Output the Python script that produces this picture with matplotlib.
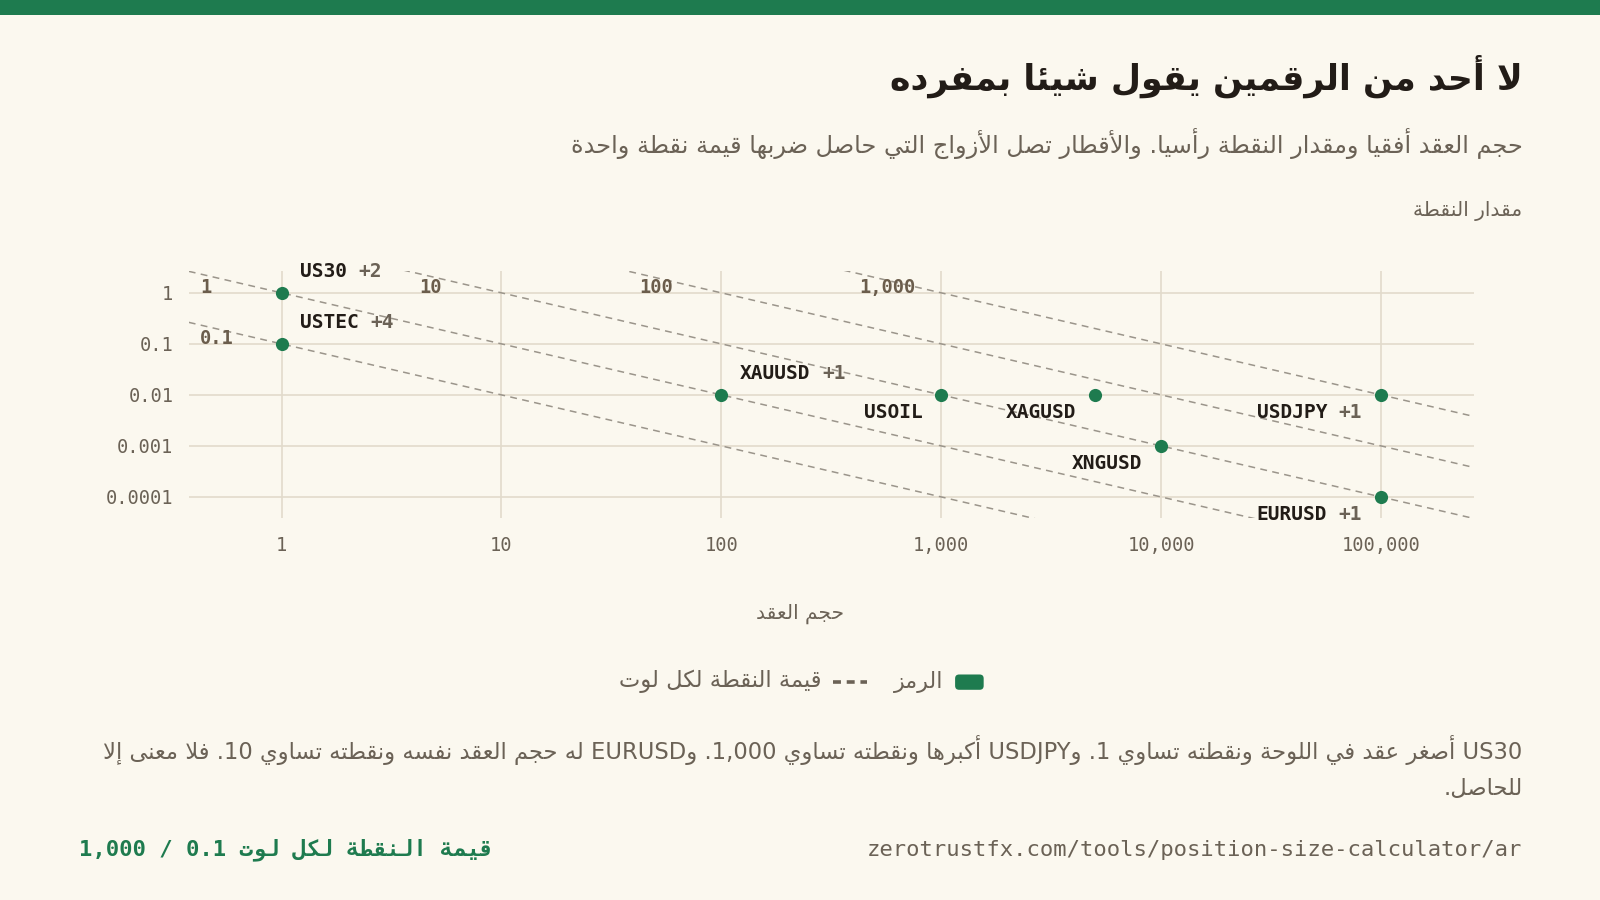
import matplotlib
matplotlib.use("Agg")
import matplotlib.pyplot as plt
import numpy as np
from matplotlib.patches import FancyBboxPatch, Rectangle
from matplotlib.lines import Line2D

# ---------------- data ----------------
symbols = ["US30", "USTEC", "XAUUSD", "USOIL", "XAGUSD", "XNGUSD", "USDJPY", "EURUSD"]
contract_size = [1, 1, 100, 1000, 5000, 10000, 100000, 100000]
point_size = [1, 0.1, 0.01, 0.01, 0.01, 0.001, 0.01, 0.0001]
extra_count = [2, 4, 1, 0, 0, 0, 1, 1]
label_side = ["ur", "ur", "ur", "dl", "dl", "dl", "dl", "dl"]

value_lines = [0.1, 1, 10, 100, 1000]
value_labels = ["0.1", "1", "10", "100", "1,000"]

x_ticks = [1, 10, 100, 1000, 10000, 100000]
x_tick_labels = ["1", "10", "100", "1,000", "10,000", "100,000"]
y_ticks = [1, 0.1, 0.01, 0.001, 0.0001]
y_tick_labels = ["1", "0.1", "0.01", "0.001", "0.0001"]

title = "لا أحد من الرقمين يقول شيئا بمفرده"
subtitle = "حجم العقد أفقيا ومقدار النقطة رأسيا. والأقطار تصل الأزواج التي حاصل ضربها قيمة نقطة واحدة"
y_title = "مقدار النقطة"
x_title = "حجم العقد"
legend_symbol = "الرمز"
legend_line = "قيمة النقطة لكل لوت"
note_lines = ["US30 أصغر عقد في اللوحة ونقطته تساوي 1. وUSDJPY أكبرها ونقطته تساوي 1,000. وEURUSD له حجم العقد نفسه ونقطته تساوي 10. فلا معنى إلا",
              "للحاصل."]
footer_left = "قيمة النقطة لكل لوت 0.1 / 1,000"
footer_right = "zerotrustfx.com/tools/position-size-calculator/ar"

# ---------------- Arabic shaping + bidi (minimal) ----------------
DUAL = {'ئ': 0xFE89, 'ب': 0xFE8F, 'ت': 0xFE95, 'ث': 0xFE99, 'ج': 0xFE9D, 'ح': 0xFEA1,
        'خ': 0xFEA5, 'س': 0xFEB1, 'ش': 0xFEB5, 'ص': 0xFEB9, 'ض': 0xFEBD, 'ط': 0xFEC1,
        'ظ': 0xFEC5, 'ع': 0xFEC9, 'غ': 0xFECD, 'ف': 0xFED1, 'ق': 0xFED5, 'ك': 0xFED9,
        'ل': 0xFEDD, 'م': 0xFEE1, 'ن': 0xFEE5, 'ه': 0xFEE9, 'ي': 0xFEF1}
RIGHT = {'آ': 0xFE81, 'أ': 0xFE83, 'ؤ': 0xFE85, 'إ': 0xFE87, 'ا': 0xFE8D, 'ة': 0xFE93,
         'د': 0xFEA9, 'ذ': 0xFEAB, 'ر': 0xFEAD, 'ز': 0xFEAF, 'و': 0xFEED, 'ى': 0xFEEF}
LAMALEF = {'آ': (0xFEF5, 0xFEF6), 'أ': (0xFEF7, 0xFEF8), 'إ': (0xFEF9, 0xFEFA), 'ا': (0xFEFB, 0xFEFC)}
TATWEEL = 'ـ'


def is_arabic(ch):
    o = ord(ch)
    return 0x0600 <= o <= 0x06FF or 0xFB50 <= o <= 0xFDFF or 0xFE70 <= o <= 0xFEFF


def shape(s):
    res = []
    prev_join = False
    i = 0
    n = len(s)
    while i < n:
        c = s[i]
        nxt = s[i + 1] if i + 1 < n else ''
        if c == 'ل' and nxt in LAMALEF:
            iso, fin = LAMALEF[nxt]
            res.append(chr(fin if prev_join else iso))
            prev_join = False
            i += 2
            continue
        if c in DUAL:
            nj = (nxt in DUAL) or (nxt in RIGHT) or nxt == TATWEEL
            b = DUAL[c]
            if prev_join and nj:
                g = b + 3
            elif prev_join:
                g = b + 1
            elif nj:
                g = b + 2
            else:
                g = b
            res.append(chr(g))
            prev_join = True
        elif c in RIGHT:
            b = RIGHT[c]
            res.append(chr(b + 1 if prev_join else b))
            prev_join = False
        elif c == TATWEEL:
            res.append(c)
            prev_join = True
        elif c == 'ء':
            res.append(chr(0xFE80))
            prev_join = False
        else:
            res.append(c)
            prev_join = False
        i += 1
    return ''.join(res)


def bidi(s):
    n = len(s)
    t = []
    for ch in s:
        if is_arabic(ch):
            t.append('R')
        elif ch.isdigit():
            t.append('EN')
        elif ch.isalpha():
            t.append('L')
        else:
            t.append('N')
    for i in range(1, n - 1):
        if s[i] in ',.' and t[i - 1] == 'EN' and t[i + 1] == 'EN':
            t[i] = 'EN'
    last = 'R'
    for i in range(n):
        if t[i] in ('L', 'R'):
            last = t[i]
        elif t[i] == 'EN' and last == 'L':
            t[i] = 'L'
    i = 0
    while i < n:
        if t[i] == 'N':
            j = i
            while j < n and t[j] == 'N':
                j += 1
            left = t[i - 1] if i > 0 else 'R'
            right = t[j] if j < n else 'R'
            left = 'R' if left == 'EN' else left
            right = 'R' if right == 'EN' else right
            d = left if left == right else 'R'
            for k in range(i, j):
                t[k] = d
            i = j
        else:
            i += 1
    levels = [1 if x == 'R' else 2 for x in t]
    chars = list(s)
    i = 0
    while i < n:
        if levels[i] == 2:
            j = i
            while j < n and levels[j] == 2:
                j += 1
            chars[i:j] = chars[i:j][::-1]
            i = j
        else:
            i += 1
    return ''.join(chars[::-1])


def ar(s):
    if any(is_arabic(c) for c in s):
        return bidi(shape(s))
    return s


# ---------------- style ----------------
BG = "#fbf8ef"
GREEN = "#1e7b4f"
DARK = "#221c17"
MUTED = "#6b6256"
BROWN = "#6b5d4c"
GRID = "#e2dbcb"
DASH = "#9b958b"
AR = ["DejaVu Sans"]
MONO = ["DejaVu Sans Mono", "DejaVu Sans"]

W, H = 1568.0, 882.0


def fx(px):
    return px / W


def fy(py):
    return 1 - py / H


fig = plt.figure(figsize=(16, 9), dpi=100, facecolor=BG)

# top bar
fig.patches.append(Rectangle((0, fy(15)), 1, 15 / H, transform=fig.transFigure,
                             facecolor=GREEN, edgecolor="none"))

ax = fig.add_axes([fx(185), fy(508), fx(1445) - fx(185), fy(266) - fy(508)])
ax.set_facecolor(BG)
ax.set_xscale("log")
ax.set_yscale("log")
xlo, xhi = 10 ** -0.422, 10 ** 5.425
ylo, yhi = 10 ** -4.42, 10 ** 0.42
ax.set_xlim(xlo, xhi)
ax.set_ylim(ylo, yhi)
for s in ax.spines.values():
    s.set_visible(False)

ax.set_xticks(x_ticks)
ax.set_xticklabels(x_tick_labels)
ax.set_yticks(y_ticks)
ax.set_yticklabels(y_tick_labels)
ax.minorticks_off()
ax.tick_params(axis="both", length=0, labelsize=13.5, labelcolor=MUTED)
ax.tick_params(axis="x", pad=13)
ax.tick_params(axis="y", pad=11)
for lab in ax.get_xticklabels() + ax.get_yticklabels():
    lab.set_family(MONO)
ax.grid(True, which="major", color=GRID, linewidth=1.2)
ax.set_axisbelow(True)

# diagonal iso-value lines
xs = np.logspace(np.log10(xlo), np.log10(xhi), 200)
for pv, lab in zip(value_lines, value_labels):
    ax.plot(xs, pv / xs, color=DASH, lw=1.1, ls=(0, (4.5, 3.5)), zorder=2)
    ax.annotate(lab, xy=(0.425 * max(pv, 1), min(pv, 1)), xytext=(0, 4),
                textcoords="offset points", ha="left", va="center",
                fontsize=13.5, fontweight="bold", color=BROWN, family=MONO, zorder=3)

# points
ax.scatter(contract_size, point_size, s=90, color=GREEN, zorder=5, linewidths=0)

FS = 14
CW = 0.602 * FS
for name, cx, py, ex, side in zip(symbols, contract_size, point_size, extra_count, label_side):
    suffix = f"+{ex}" if ex else ""
    if side == "ur":
        ax.annotate(name, xy=(cx, py), xytext=(13.5, 15.5), textcoords="offset points",
                    ha="left", va="center", fontsize=FS, fontweight="bold",
                    color=DARK, family=MONO, zorder=6)
        if suffix:
            ax.annotate(suffix, xy=(cx, py), xytext=(13.5 + (len(name) + 1) * CW, 15.5),
                        textcoords="offset points", ha="left", va="center", fontsize=FS,
                        fontweight="bold", color=MUTED, family=MONO, zorder=6)
    else:
        off = (len(suffix) + 1) * CW if suffix else 0
        ax.annotate(name, xy=(cx, py), xytext=(-13.5 - off, -13), textcoords="offset points",
                    ha="right", va="center", fontsize=FS, fontweight="bold",
                    color=DARK, family=MONO, zorder=6)
        if suffix:
            ax.annotate(suffix, xy=(cx, py), xytext=(-13.5, -13),
                        textcoords="offset points", ha="right", va="center", fontsize=FS,
                        fontweight="bold", color=MUTED, family=MONO, zorder=6)

# titles
fig.text(fx(1492), fy(75), ar(title), ha="right", va="center", fontsize=25,
         fontweight="bold", color=DARK, family=AR)
fig.text(fx(1492), fy(141), ar(subtitle), ha="right", va="center", fontsize=17.3,
         color=MUTED, family=AR)
fig.text(fx(1492), fy(207), ar(y_title), ha="right", va="center", fontsize=14.5,
         color=MUTED, family=AR)
fig.text(fx(784), fy(602), ar(x_title), ha="center", va="center", fontsize=14.5,
         color=MUTED, family=AR)

# legend
fig.patches.append(FancyBboxPatch((fx(936), fy(676)), fx(964) - fx(936), (676 - 661) / H,
                                  boxstyle="round,pad=0,rounding_size=0.0025",
                                  transform=fig.transFigure, facecolor=GREEN,
                                  edgecolor="none", mutation_aspect=16 / 9))
fig.text(fx(925), fy(668), ar(legend_symbol), ha="right", va="center", fontsize=16,
         color=MUTED, family=AR)
fig.lines.append(Line2D([fx(816), fx(850)], [fy(668), fy(668)], transform=fig.transFigure,
                        color=MUTED, lw=2.6, ls=(0, (2.2, 1.6))))
fig.text(fx(805), fy(668), ar(legend_line), ha="right", va="center", fontsize=16.3,
         color=MUTED, family=AR)

# note
for k, line in enumerate(note_lines):
    fig.text(fx(1492), fy(735 + 38 * k), ar(line), ha="right", va="center", fontsize=16.3,
             color=MUTED, family=AR)

# footer
fig.text(fx(77), fy(833), ar(footer_left), ha="left", va="center", fontsize=16,
         fontweight="bold", color=GREEN, family=MONO)
fig.text(fx(1492), fy(833), footer_right, ha="right", va="center", fontsize=16,
         color=MUTED, family=MONO)

fig.savefig("out.png", dpi=100, facecolor=BG)
